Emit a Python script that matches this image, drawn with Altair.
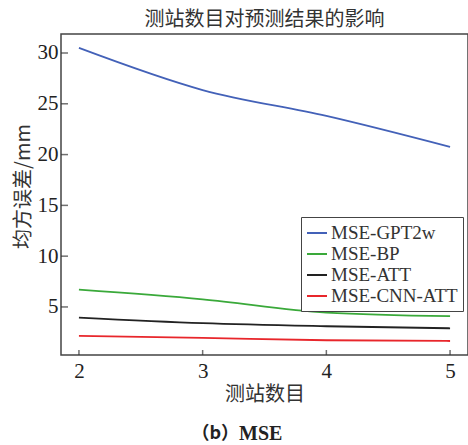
import altair as alt
import pandas as pd

stations = [2, 3, 4, 5]
gpt2w = [30.5, 26.35, 23.8, 20.75]
bp = [6.7, 5.75, 4.45, 4.1]
att = [3.95, 3.4, 3.1, 2.9]
cnn_att = [2.15, 1.95, 1.72, 1.65]
series_names = ["MSE-GPT2w", "MSE-BP", "MSE-ATT", "MSE-CNN-ATT"]
series_colors = ["#4361b8", "#3aa93a", "#222222", "#e8262b"]
x_ticks = [2, 3, 4, 5]
y_ticks = [5, 10, 15, 20, 25, 30]
caption_cjk = ["（b）"]
caption_latin = ["MSE"]

SERIF = "Liberation Serif"
CJK = "Noto Sans CJK SC"

rows = []
for name, vals in zip(series_names, [gpt2w, bp, att, cnn_att]):
    for s, v in zip(stations, vals):
        rows.append({"stations": s, "mse": v, "series": name})
df = pd.DataFrame(rows)

xscale = alt.Scale(domain=[1.855, 5.145], nice=False, zero=False)
yscale = alt.Scale(domain=[0.27, 31.87], nice=False, zero=False)

xaxis = alt.Axis(values=x_ticks, format="d", title="测站数目", labelPadding=5,
                 titlePadding=3)
yaxis = alt.Axis(values=y_ticks, format="d", title="均方误差/mm", labelPadding=3,
                 titleY=152)

lines = alt.Chart(df).mark_line(strokeWidth=1.8, interpolate="monotone").encode(
    x=alt.X("stations:Q", scale=xscale, axis=xaxis),
    y=alt.Y("mse:Q", scale=yscale, axis=yaxis),
    color=alt.Color("series:N",
                    scale=alt.Scale(domain=series_names, range=series_colors),
                    sort=series_names,
                    legend=alt.Legend(orient="none", legendX=240, legendY=183, title=None,
                                      strokeColor="#444", fillColor="white", padding=5,
                                      symbolType="stroke", symbolSize=400,
                                      symbolStrokeWidth=2, labelFontSize=19,
                                      labelFont=SERIF, labelColor="#333", labelOffset=3,
                                      rowPadding=0)),
)

ytick_df = pd.DataFrame({"v": y_ticks})
yticks = alt.Chart(ytick_df).mark_tick(orient="horizontal", size=7, thickness=1.5,
                                       xOffset=3.5, color="#333").encode(
    y=alt.Y("v:Q", scale=yscale, axis=yaxis), x=alt.value(0))

xtick_df = pd.DataFrame({"v": x_ticks})
xticks = alt.Chart(xtick_df).mark_tick(orient="vertical", size=5, thickness=1.5,
                                       yOffset=-2.5, color="#333").encode(
    x=alt.X("v:Q", scale=xscale, axis=xaxis), y=alt.value(321))

cap1 = alt.Chart(pd.DataFrame({"t": caption_cjk})).mark_text(
    font=CJK, fontSize=18, fontWeight="bold", color="#222",
    baseline="alphabetic", align="right").encode(
    text="t:N", x=alt.value(178), y=alt.value(405))

cap2 = alt.Chart(pd.DataFrame({"t": caption_latin})).mark_text(
    font=SERIF, fontSize=20, fontWeight="bold", color="#222",
    baseline="alphabetic", align="left").encode(
    text="t:N", x=alt.value(178), y=alt.value(406))

chart = alt.layer(lines, yticks, xticks, cap1, cap2).properties(
    width=407, height=321,
    title=alt.TitleParams("测站数目对预测结果的影响", font=CJK, fontSize=20,
                          fontWeight="normal", color="#333"),
    autosize=alt.AutoSizeParams(type="none"),
    padding={"left": 61, "top": 34, "right": 0, "bottom": 90},
).configure_view(stroke="#444", strokeWidth=1.5).configure_axis(
    ticks=False, domain=False, grid=False,
    labelFont=SERIF, labelFontSize=21, labelColor="#222",
    titleFont=CJK, titleFontSize=20, titleFontWeight="normal", titleColor="#333",
)

chart.save("out.html", embed_options={"renderer": "svg", "actions": False})
